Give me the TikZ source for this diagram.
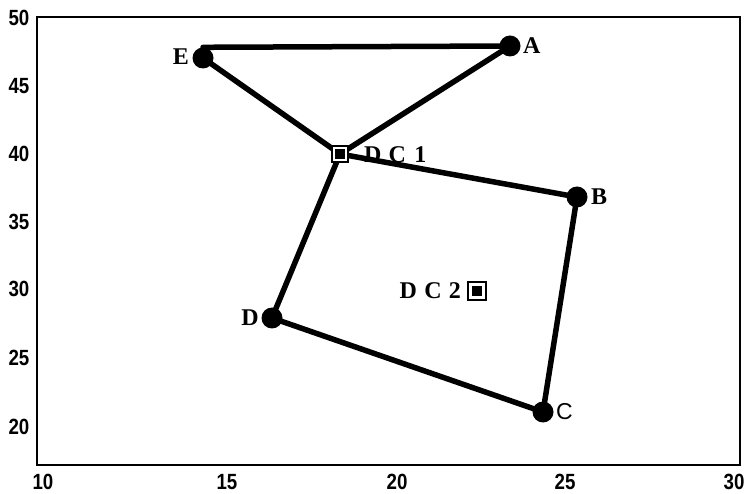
\documentclass[tikz,border=0pt]{standalone}
\usepackage{fontspec}
\setmainfont{Liberation Serif}
\setsansfont{Liberation Sans}
\begin{document}
\begin{tikzpicture}[x=1pt,y=-1pt,
  pt/.style={circle,fill=black,inner sep=0pt,minimum size=21pt},
  dc/.style={draw=black,line width=1.8pt,fill=white,inner sep=0pt,minimum size=16pt,
     path picture={\fill[black] (path picture bounding box.center) ++(-5pt,-5pt) rectangle ++(10pt,10pt);}},
  edge/.style={line width=5.5pt,line cap=round},
  tick/.style={font=\sffamily\bfseries\fontsize{22}{24}\selectfont,xscale=0.85,inner sep=0pt},
  lab/.style={font=\bfseries\fontsize{24}{26}\selectfont,inner sep=0pt},
  labs/.style={font=\sffamily\fontsize{23}{26}\selectfont,inner sep=0pt}]
\useasboundingbox (0,0) rectangle (747,494);
% frame
\draw[line width=2pt] (37,17) rectangle (740,465);
% ticks labels
\node[tick] (x10) at (43,482) {10};
\node[tick] (x15) at (227,482) {15};
\node[tick] (x20) at (397,482) {20};
\node[tick] (x25) at (565,482) {25};
\node[tick] (x30) at (734,482) {30};
\node[tick] (y50) at (19,18) {50};
\node[tick] (y45) at (19,86) {45};
\node[tick] (y40) at (19,154) {40};
\node[tick] (y35) at (19,222) {35};
\node[tick] (y30) at (19,289) {30};
\node[tick] (y25) at (19,358) {25};
\node[tick] (y20) at (19,427) {20};
% points
\node[pt] (A) at (510,46) {};
\node[pt] (E) at (203,58) {};
\node[pt] (B) at (577,197) {};
\node[pt] (C) at (543,412) {};
\node[pt] (D) at (272,318) {};
\coordinate (DC1c) at (340,154);
% edges
\draw[edge] (E.north) -- (A.center);
\draw[edge] (E.center) -- (DC1c);
\draw[edge] (A.center) -- (DC1c);
\draw[edge] (DC1c) -- (B.center);
\draw[edge] (DC1c) -- (D.center);
\draw[edge] (D.center) -- (C.center);
\draw[edge] (C.center) -- (B.center);
% DC nodes
\node[dc] (DC1) at (DC1c) {};
\node[dc,minimum size=18pt] (DC2) at (477,291) {};
% labels
\node[lab,anchor=west] (lA) at (523,46) {A};
\node[lab,anchor=east] (lE) at (189,57) {E};
\node[lab,anchor=west] (lB) at (591,197) {B};
\node[labs,anchor=west] (lC) at (556,412) {C};
\node[lab,anchor=east] (lD) at (259,318) {D};
\node[lab,anchor=west] (lDC1) at (364,155) {D\hspace{0.3em}C\hspace{0.35em}1};
\node[lab,anchor=east] (lDC2) at (461,291) {D\hspace{0.3em}C\hspace{0.3em}2};
\end{tikzpicture}
\end{document}
